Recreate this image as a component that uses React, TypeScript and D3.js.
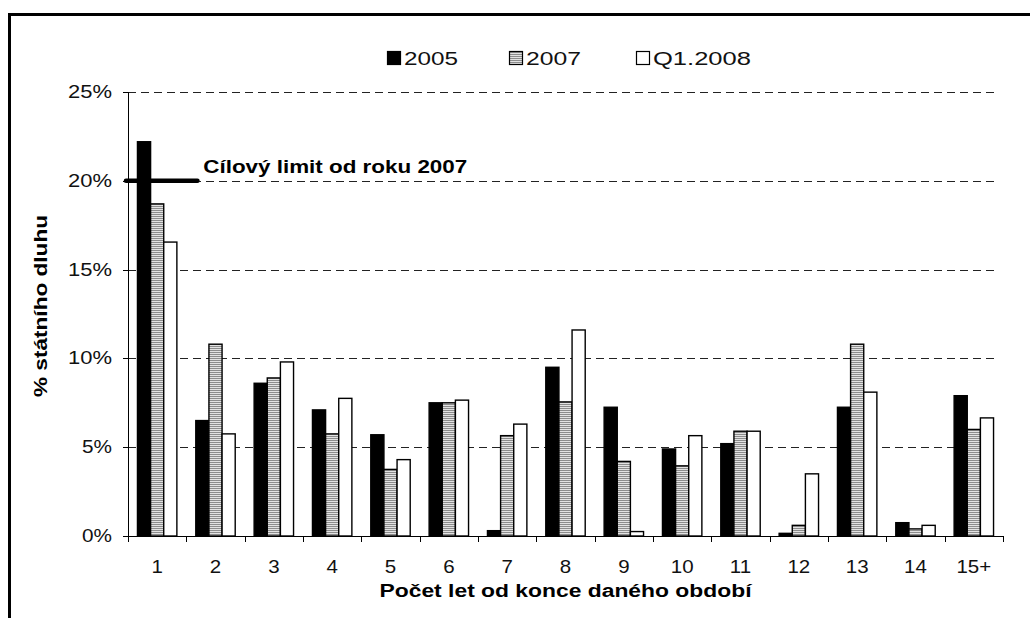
import * as d3 from "d3";

const categories = ["1", "2", "3", "4", "5", "6", "7", "8", "9", "10", "11", "12", "13", "14", "15+"];
const seriesNames = ["2005", "2007", "Q1.2008"];
const values2005 = [22.2, 6.5, 8.6, 7.1, 5.7, 7.5, 0.3, 9.5, 7.25, 4.9, 5.2, 0.15, 7.25, 0.75, 7.9];
const values2007 = [18.7, 10.8, 8.9, 5.75, 3.75, 7.5, 5.65, 7.55, 4.2, 3.95, 5.9, 0.6, 10.8, 0.4, 6.0];
const valuesQ12008 = [16.55, 5.75, 9.8, 7.75, 4.3, 7.65, 6.3, 11.6, 0.25, 5.65, 5.9, 3.5, 8.1, 0.6, 6.65];
const yTicks = [0, 5, 10, 15, 20, 25];
const limitValue = 20;
const limitLabel = "Cílový limit od roku 2007";

const FONT = "'Liberation Sans', Arial, sans-serif";

export default function App() {
  const width = 1030;
  const height = 618;
  const plot = { left: 128, right: 1003, top: 92, bottom: 536 };

  const x0 = d3.scaleBand().domain(categories).range([plot.left, plot.right]).padding(0);
  const x1 = d3
    .scaleBand()
    .domain(seriesNames)
    .range([0, x0.bandwidth()])
    .paddingInner(0)
    .paddingOuter(0.72);
  const y = d3.scaleLinear().domain([0, 25]).range([plot.bottom, plot.top]);

  const seriesValues: Record<string, number[]> = {
    "2005": values2005,
    "2007": values2007,
    "Q1.2008": valuesQ12008,
  };
  const fills: Record<string, string> = {
    "2005": "#000",
    "2007": "url(#stripes)",
    "Q1.2008": "#fff",
  };

  // limit marker: from the axis to a bit past the first category
  const limitLine = d3.line<[number, number]>()([
    [plot.left - 2, y(limitValue)],
    [plot.left + x0.bandwidth() * 1.19, y(limitValue)],
  ]);

  // legend layout (the original text is rendered wide, so widths are fixed)
  const legendX = [387, 509, 636];
  const legendW = [54, 55, 98];
  const legendY = 58;

  return (
    <svg
      width={width}
      height={height}
      style={{ position: "absolute", left: 0, top: 0, background: "#fff" }}
    >
      <defs>
        <pattern id="stripes" width={4} height={2} patternUnits="userSpaceOnUse">
          <rect width={4} height={2} fill="#e2e2e2" />
          <rect width={4} height={1} fill="#8c8c8c" />
        </pattern>
      </defs>

      {/* frame (top and left edges) */}
      <line x1={9.5} y1={14.5} x2={width} y2={14.5} stroke="#000" strokeWidth={3} />
      <line x1={9.5} y1={13} x2={9.5} y2={height} stroke="#000" strokeWidth={3} />

      {/* gridlines */}
      {yTicks
        .filter((t) => t > 0)
        .map((t) => (
          <line
            key={`g-${t}`}
            x1={plot.left}
            x2={plot.right - 4}
            y1={Math.round(y(t)) + 0.5}
            y2={Math.round(y(t)) + 0.5}
            stroke="#222"
            strokeWidth={1}
            strokeDasharray="8,5"
          />
        ))}

      {/* y axis */}
      <line x1={plot.left + 0.5} x2={plot.left + 0.5} y1={plot.top} y2={plot.bottom} stroke="#000" />
      {yTicks.map((t) => (
        <g key={`yt-${t}`}>
          <line
            x1={plot.left - 5}
            x2={plot.left}
            y1={Math.round(y(t)) + 0.5}
            y2={Math.round(y(t)) + 0.5}
            stroke="#000"
          />
          <text
            x={plot.left - 16}
            y={y(t)}
            textAnchor="end"
            dominantBaseline="central"
            fontFamily={FONT}
            fontSize={18}
            fill="#111"
            textLength={t >= 10 ? 44 : 30}
            lengthAdjust="spacingAndGlyphs"
          >
            {t}%
          </text>
        </g>
      ))}

      {/* bars */}
      {categories.map((c, i) => (
        <g key={`c-${c}`} transform={`translate(${x0(c)},0)`}>
          {seriesNames.map((s) => {
            const v = seriesValues[s][i];
            return (
              <rect
                key={s}
                x={x1(s)}
                y={y(v)}
                width={x1.bandwidth()}
                height={y(0) - y(v)}
                fill={fills[s]}
                stroke="#000"
                strokeWidth={1.4}
              />
            );
          })}
        </g>
      ))}

      {/* x axis */}
      <line x1={plot.left} x2={plot.right} y1={plot.bottom + 0.5} y2={plot.bottom + 0.5} stroke="#000" />
      {[...categories.map((c) => x0(c) as number), plot.right].map((xv, i) => (
        <line
          key={`xt-${i}`}
          x1={Math.round(xv) + 0.5}
          x2={Math.round(xv) + 0.5}
          y1={plot.bottom}
          y2={plot.bottom + 6}
          stroke="#000"
        />
      ))}
      {categories.map((c) => (
        <text
          key={`xl-${c}`}
          transform={`translate(${(x0(c) as number) + x0.bandwidth() / 2},573) scale(1.14,1)`}
          textAnchor="middle"
          fontFamily={FONT}
          fontSize={18}
          fill="#111"
        >
          {c}
        </text>
      ))}

      {/* limit line */}
      <path d={limitLine ?? ""} stroke="#000" strokeWidth={4.5} strokeLinecap="round" fill="none" />
      <text
        x={plot.left + x0.bandwidth() * 1.29}
        y={y(limitValue) - 8}
        fontFamily={FONT}
        fontSize={18}
        fontWeight="bold"
        fill="#000"
        textLength={264}
        lengthAdjust="spacingAndGlyphs"
      >
        {limitLabel}
      </text>

      {/* axis titles */}
      <text
        x={(plot.left + plot.right) / 2}
        y={597}
        textAnchor="middle"
        fontFamily={FONT}
        fontSize={18}
        fontWeight="bold"
        fill="#000"
        textLength={372}
        lengthAdjust="spacingAndGlyphs"
      >
        Počet let od konce daného období
      </text>
      <text
        transform={`translate(47,${(plot.top + plot.bottom) / 2 - 8}) rotate(-90)`}
        textAnchor="middle"
        fontFamily={FONT}
        fontSize={18}
        fontWeight="bold"
        fill="#000"
        textLength={182}
        lengthAdjust="spacingAndGlyphs"
      >
        % státního dluhu
      </text>

      {/* legend */}
      {seriesNames.map((s, i) => (
        <g key={`lg-${s}`} transform={`translate(${legendX[i]},${legendY})`}>
          <rect
            x={0.5}
            y={-6.5}
            width={13}
            height={13}
            fill={fills[s]}
            stroke="#000"
            strokeWidth={1.2}
          />
          <text
            x={17}
            y={0}
            dominantBaseline="central"
            fontFamily={FONT}
            fontSize={18.5}
            fill="#111"
            textLength={legendW[i]}
            lengthAdjust="spacingAndGlyphs"
          >
            {s}
          </text>
        </g>
      ))}
    </svg>
  );
}
